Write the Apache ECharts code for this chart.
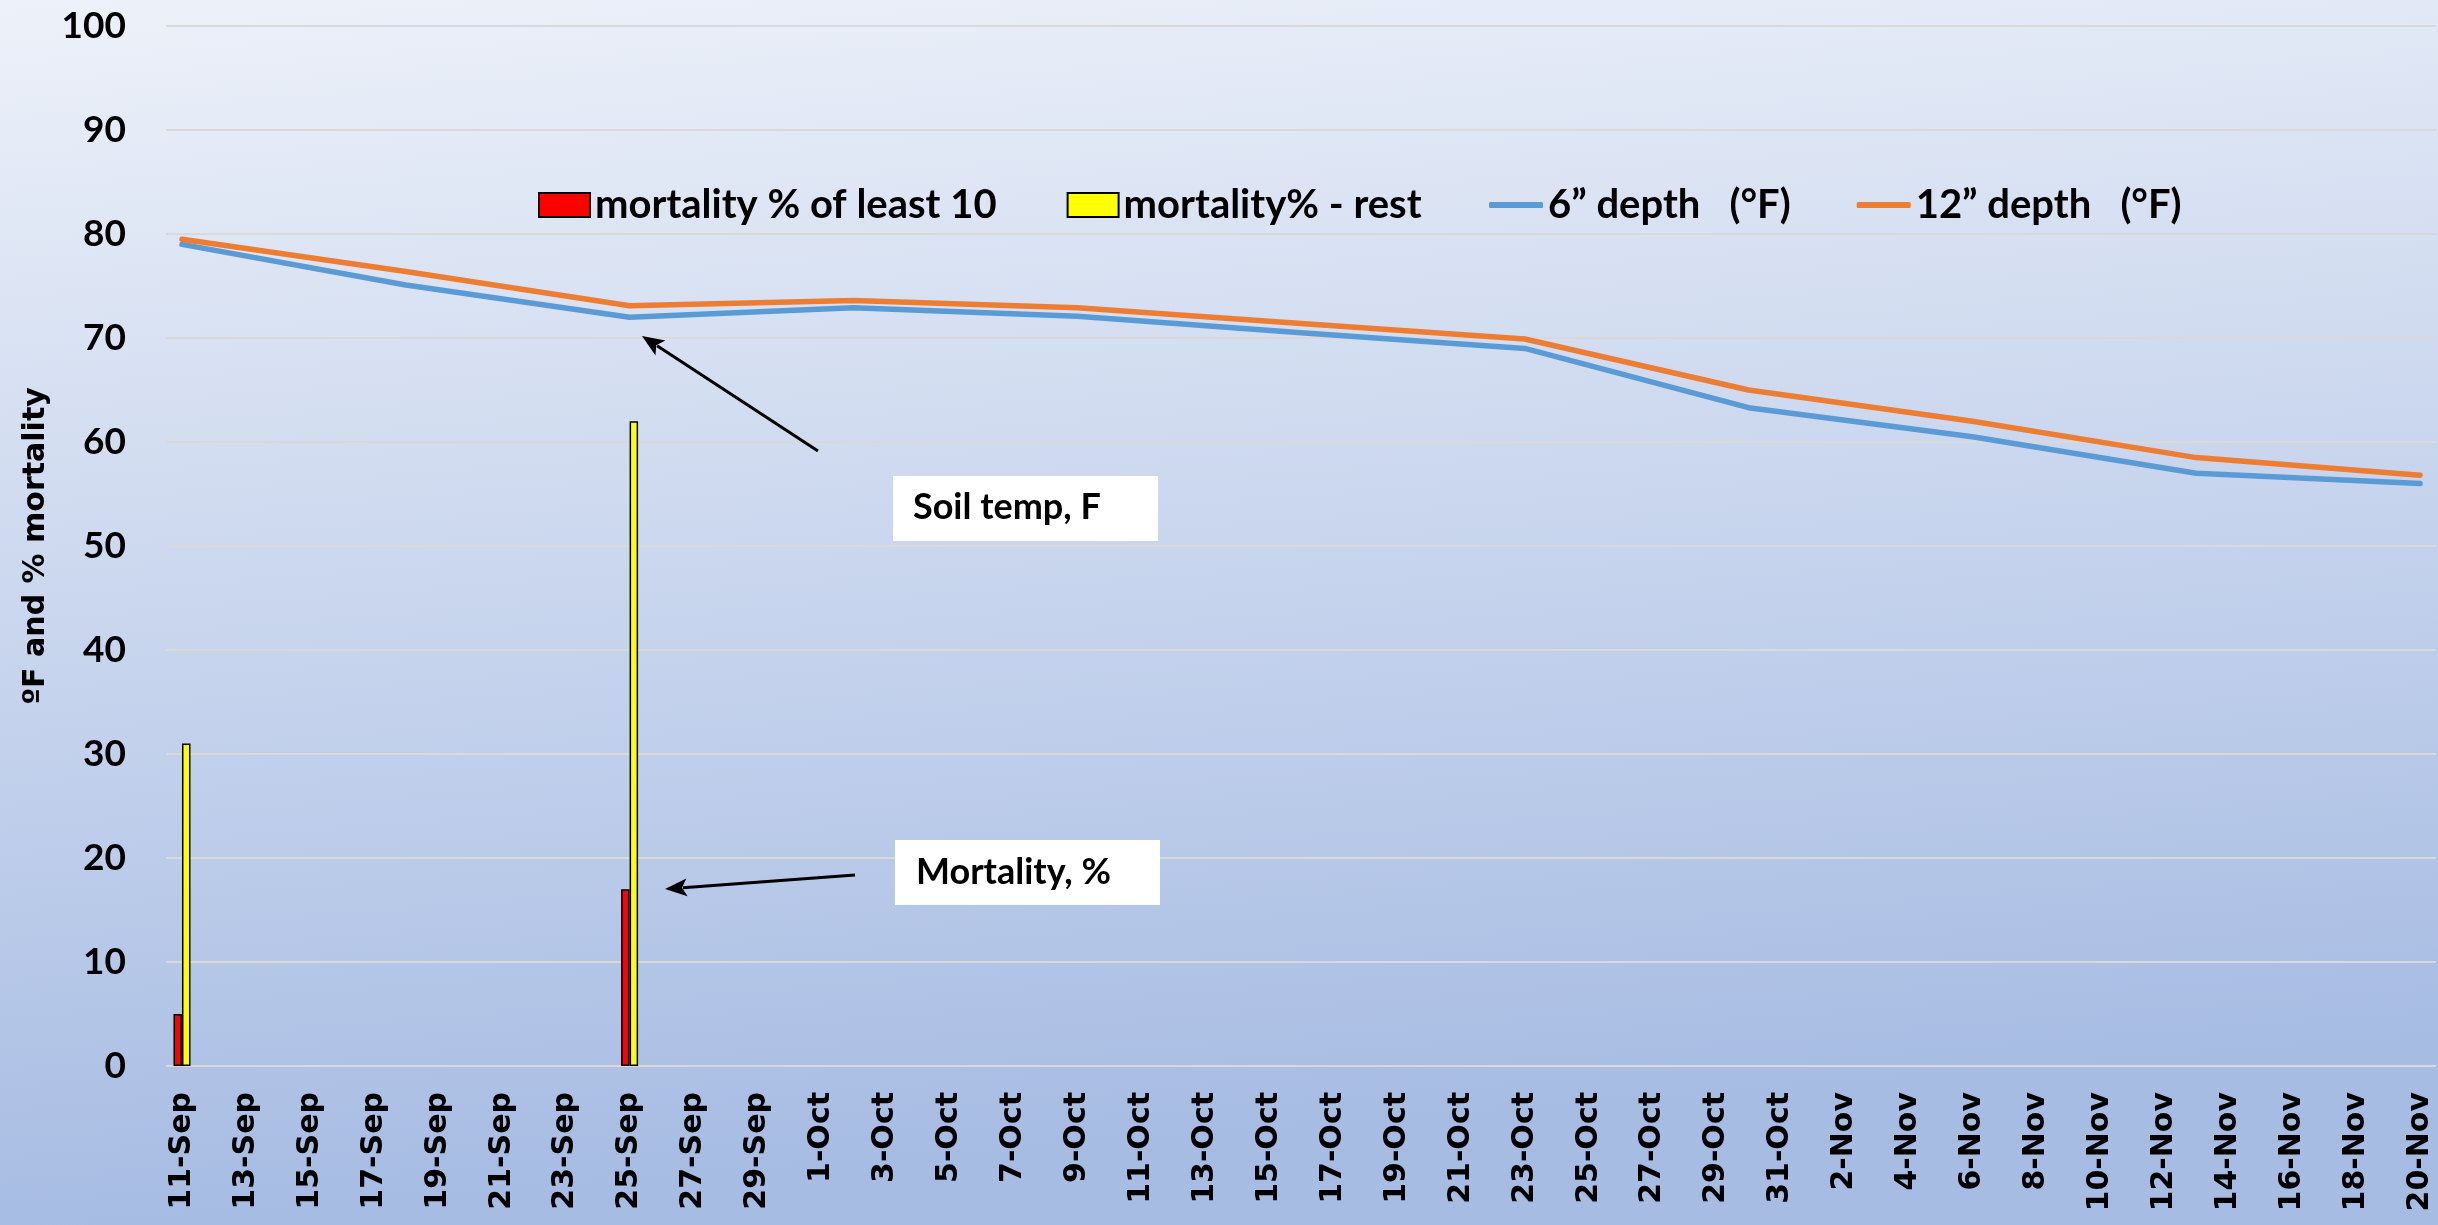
<!DOCTYPE html>
<html>
<head>
<meta charset="utf-8">
<script src="https://cdn.jsdelivr.net/npm/echarts@6.0.0/dist/echarts.min.js"></script>
<style>
  html, body { margin: 0; padding: 0; background: #ffffff; }
  #chart { width: 2438px; height: 1225px; }
</style>
</head>
<body>
<div id="chart"></div>
<script>
// ---- Data ----
const categories = [
  '11-Sep','12-Sep','13-Sep','14-Sep','15-Sep','16-Sep','17-Sep','18-Sep','19-Sep','20-Sep',
  '21-Sep','22-Sep','23-Sep','24-Sep','25-Sep','26-Sep','27-Sep','28-Sep','29-Sep','30-Sep',
  '1-Oct','2-Oct','3-Oct','4-Oct','5-Oct','6-Oct','7-Oct','8-Oct','9-Oct','10-Oct',
  '11-Oct','12-Oct','13-Oct','14-Oct','15-Oct','16-Oct','17-Oct','18-Oct','19-Oct','20-Oct',
  '21-Oct','22-Oct','23-Oct','24-Oct','25-Oct','26-Oct','27-Oct','28-Oct','29-Oct','30-Oct',
  '31-Oct','1-Nov','2-Nov','3-Nov','4-Nov','5-Nov','6-Nov','7-Nov','8-Nov','9-Nov',
  '10-Nov','11-Nov','12-Nov','13-Nov','14-Nov','15-Nov','16-Nov','17-Nov','18-Nov','19-Nov',
  '20-Nov'
];

const mortalityDates = ['11-Sep', '25-Sep'];
const mortalityLeast10 = [5, 17];
const mortalityRest = [31, 62];

const tempDates = ['11-Sep','18-Sep','25-Sep','2-Oct','9-Oct','16-Oct','23-Oct','30-Oct','6-Nov','13-Nov','20-Nov'];
const depth6 = [79.0, 75.1, 72.0, 72.9, 72.1, 70.5, 69.0, 63.3, 60.5, 57.0, 56.0];
const depth12 = [79.5, 76.4, 73.1, 73.6, 72.9, 71.4, 69.9, 65.0, 62.0, 58.5, 56.8];

const seriesNames = ['mortality % of least 10', 'mortality% - rest', '6\u201D depth   (\u00B0F)', '12\u201D depth   (\u00B0F)'];
const yAxisName = '\u00BAF and % mortality';
const annotationTexts = ['Soil temp, F', 'Mortality, %'];

// ---- Helpers ----
function pairs(xs, ys) { return xs.map((x, i) => [x, ys[i]]); }

function arrow(x1, y1, x2, y2) {
  const dx = x2 - x1, dy = y2 - y1;
  const len = Math.sqrt(dx * dx + dy * dy);
  const ux = dx / len, uy = dy / len;
  const hl = 22, hw = 9;
  const bx = x2 - ux * hl, by = y2 - uy * hl;
  const nx = -uy, ny = ux;
  return [
    { type: 'line', shape: { x1: x1, y1: y1, x2: bx + ux * 4, y2: by + uy * 4 },
      style: { stroke: '#000', lineWidth: 3 }, z: 100 },
    { type: 'polygon', shape: { points: [[x2, y2], [bx + nx * hw, by + ny * hw], [bx + ux * 5, by + uy * 5], [bx - nx * hw, by - ny * hw]] },
      style: { fill: '#000' }, z: 100 }
  ];
}

const labelFont = 'Lato, "Open Sans", sans-serif';
const legendText = { fontFamily: labelFont, fontWeight: 'bold', fontSize: 40, color: '#000' };

const chart = echarts.init(document.getElementById('chart'), null, { renderer: 'canvas' });

const option = {
  backgroundColor: {
    type: 'linear', x: 0, y: 0, x2: 0.04, y2: 1,
    colorStops: [
      { offset: 0, color: '#edf1f9' },
      { offset: 1, color: '#a7bce3' }
    ]
  },
  animation: false,
  grid: { left: 166, right: 2, top: 26, bottom: 159, containLabel: false },
  legend: [
    {
      left: 533, top: 180,
      itemWidth: 51, itemHeight: 24, itemGap: 70,
      textStyle: legendText,
      data: [
        { name: seriesNames[0], icon: 'rect' },
        { name: seriesNames[1], icon: 'rect' }
      ]
    },
    {
      left: 1484, top: 180,
      itemWidth: 54, itemHeight: 6, itemGap: 66,
      textStyle: legendText,
      data: [
        { name: seriesNames[2], icon: 'roundRect' },
        { name: seriesNames[3], icon: 'roundRect' }
      ]
    }
  ],
  xAxis: {
    type: 'category',
    data: categories,
    boundaryGap: true,
    axisLine: { show: false },
    axisTick: { show: false },
    axisLabel: {
      interval: 1, rotate: 90, margin: 26,
      fontFamily: '"DejaVu Sans", sans-serif', fontWeight: 'bold', fontSize: 30, color: '#000'
    },
    splitLine: { show: false }
  },
  yAxis: {
    type: 'value', min: 0, max: 100, interval: 10,
    name: yAxisName, nameLocation: 'middle', nameRotate: 90, nameGap: 112,
    nameTextStyle: { fontFamily: '"DejaVu Sans", sans-serif', fontWeight: 'bold', fontSize: 30, color: '#000' },
    axisLine: { show: false },
    axisTick: { show: false },
    axisLabel: { margin: 40, fontFamily: labelFont, fontWeight: 'bold', fontSize: 37, color: '#000' },
    splitLine: { show: true, lineStyle: { color: '#d9d9d9', width: 2 } }
  },
  series: [
    {
      name: seriesNames[0], type: 'bar',
      data: pairs(mortalityDates, mortalityLeast10),
      barWidth: 8.5, barGap: '0%',
      itemStyle: { color: '#ff0000', borderColor: '#000', borderWidth: 1.5 }
    },
    {
      name: seriesNames[1], type: 'bar',
      data: pairs(mortalityDates, mortalityRest),
      barWidth: 8.5, barGap: '0%',
      itemStyle: { color: '#ffff00', borderColor: '#000', borderWidth: 1.5 }
    },
    {
      name: seriesNames[2], type: 'line',
      data: pairs(tempDates, depth6),
      symbol: 'none', smooth: false,
      lineStyle: { color: '#5b9bd5', width: 5.5, cap: 'round', join: 'round' },
      itemStyle: { color: '#5b9bd5' }
    },
    {
      name: seriesNames[3], type: 'line',
      data: pairs(tempDates, depth12),
      symbol: 'none', smooth: false,
      lineStyle: { color: '#ed7d31', width: 5.5, cap: 'round', join: 'round' },
      itemStyle: { color: '#ed7d31' }
    }
  ],
  graphic: [
    { type: 'rect', shape: { x: 893, y: 476, width: 265, height: 65 }, style: { fill: '#ffffff' }, z: 90 },
    { type: 'text', x: 913, y: 507, style: { text: annotationTexts[0], fill: '#000', font: 'bold 36px ' + labelFont, textVerticalAlign: 'middle' }, z: 95 },
    { type: 'rect', shape: { x: 895, y: 840, width: 265, height: 65 }, style: { fill: '#ffffff' }, z: 90 },
    { type: 'text', x: 916, y: 872, style: { text: annotationTexts[1], fill: '#000', font: 'bold 36px ' + labelFont, textVerticalAlign: 'middle' }, z: 95 }
  ].concat(arrow(818, 451, 642, 336)).concat(arrow(855, 875, 665, 889))
};

chart.setOption(option);
</script>
</body>
</html>
